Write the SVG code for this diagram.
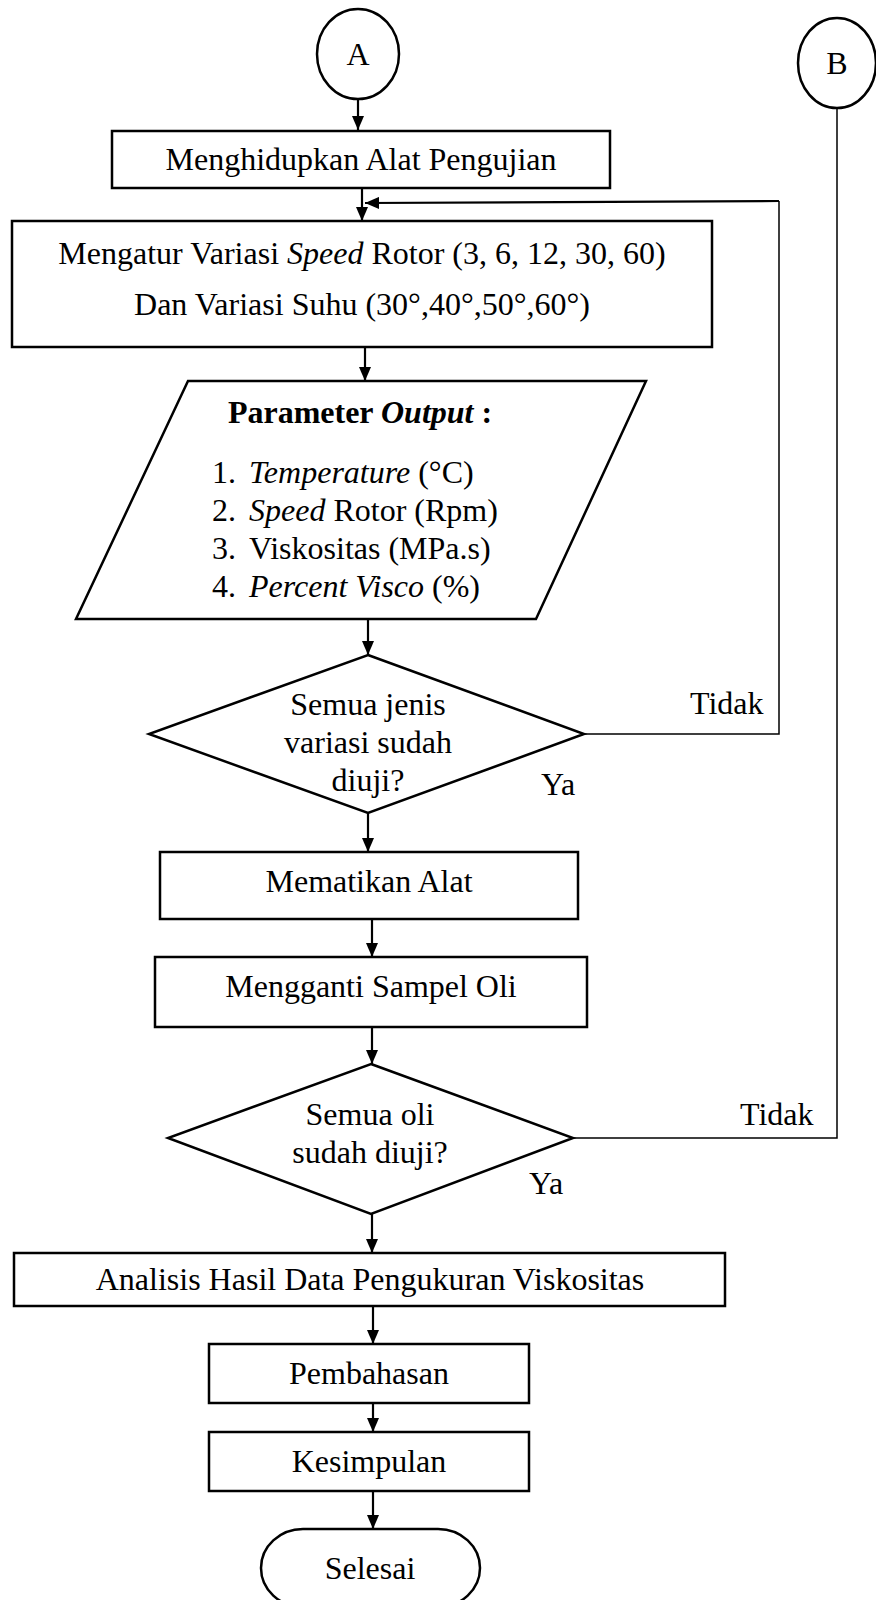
<svg xmlns="http://www.w3.org/2000/svg" width="876" height="1600" viewBox="0 0 876 1600">
<defs>
<style>
.s{fill:#fff;stroke:#000;stroke-width:2.5}
.c{fill:none;stroke:#000;stroke-width:2.2}
.f{fill:none;stroke:#000;stroke-width:1.5}
text{font-family:"Liberation Serif","Times New Roman",serif;font-size:32px;fill:#000}
.m{text-anchor:middle}
.i{font-style:italic}
.b{font-weight:bold}
</style>
<marker id="ah" viewBox="0 0 14 12" refX="14" refY="6" markerWidth="14" markerHeight="12" markerUnits="userSpaceOnUse" orient="auto">
<path d="M0,0 L14,6 L0,12 z" fill="#000"/>
</marker>
</defs>
<g id="connectors">
<line class="c" x1="358" y1="99" x2="358" y2="130" marker-end="url(#ah)"/>
<line class="c" x1="362" y1="188" x2="362" y2="221" marker-end="url(#ah)"/>
<polyline class="f" points="584,734 779,734 779,201"/>
<line class="c" x1="779" y1="201" x2="365" y2="203" marker-end="url(#ah)"/>
<line class="c" x1="365" y1="347" x2="365" y2="381" marker-end="url(#ah)"/>
<line class="c" x1="368" y1="619" x2="368" y2="655" marker-end="url(#ah)"/>
<line class="c" x1="368" y1="813" x2="368" y2="852" marker-end="url(#ah)"/>
<line class="c" x1="372" y1="919" x2="372" y2="957" marker-end="url(#ah)"/>
<line class="c" x1="372" y1="1027" x2="372" y2="1064" marker-end="url(#ah)"/>
<polyline class="f" points="837,108 837,1138 573,1138"/>
<line class="c" x1="372" y1="1214" x2="372" y2="1253" marker-end="url(#ah)"/>
<line class="c" x1="373" y1="1306" x2="373" y2="1344" marker-end="url(#ah)"/>
<line class="c" x1="373" y1="1403" x2="373" y2="1432" marker-end="url(#ah)"/>
<line class="c" x1="373" y1="1491" x2="373" y2="1529" marker-end="url(#ah)"/>
</g>
<g id="conA">
<ellipse class="s" cx="358" cy="54" rx="41" ry="45"/>
<text class="m" x="358" y="65">A</text>
</g>
<g id="conB">
<ellipse class="s" cx="837" cy="63" rx="39" ry="45"/>
<text class="m" x="837" y="74">B</text>
</g>
<g id="box1">
<rect class="s" x="112" y="131" width="498" height="57"/>
<text class="m" x="361" y="170">Menghidupkan Alat Pengujian</text>
</g>
<g id="box2">
<rect class="s" x="12" y="221" width="700" height="126"/>
<text class="m" x="362" y="264">Mengatur Variasi <tspan class="i">Speed</tspan> Rotor (3, 6, 12, 30, 60)</text>
<text class="m" x="362" y="315">Dan Variasi Suhu (30°,40°,50°,60°)</text>
</g>
<g id="output">
<polygon class="s" points="188,381 646,381 536,619 76,619"/>
<text class="m b" x="360" y="423">Parameter <tspan class="i">Output</tspan> :</text>
<text x="212" y="483">1.</text><text x="249" y="483"><tspan class="i">Temperature</tspan> (°C)</text>
<text x="212" y="521">2.</text><text x="249" y="521"><tspan class="i">Speed</tspan> Rotor (Rpm)</text>
<text x="212" y="559">3.</text><text x="249" y="559">Viskositas (MPa.s)</text>
<text x="212" y="597">4.</text><text x="249" y="597"><tspan class="i">Percent Visco</tspan> (%)</text>
</g>
<g id="dec1">
<polygon class="s" points="368,655 584,734 368,813 149,734"/>
<text class="m" x="368" y="715">Semua jenis</text>
<text class="m" x="368" y="753">variasi sudah</text>
<text class="m" x="368" y="791">diuji?</text>
<text x="690" y="714">Tidak</text>
<text x="541" y="795">Ya</text>
</g>
<g id="box3">
<rect class="s" x="160" y="852" width="418" height="67"/>
<text class="m" x="369" y="892">Mematikan Alat</text>
</g>
<g id="box4">
<rect class="s" x="155" y="957" width="432" height="70"/>
<text class="m" x="371" y="997">Mengganti Sampel Oli</text>
</g>
<g id="dec2">
<polygon class="s" points="371,1064 573,1138 371,1214 168,1138"/>
<text class="m" x="370" y="1125">Semua oli</text>
<text class="m" x="370" y="1163">sudah diuji?</text>
<text x="740" y="1125">Tidak</text>
<text x="529" y="1194">Ya</text>
</g>
<g id="box5">
<rect class="s" x="14" y="1253" width="711" height="53"/>
<text class="m" x="370" y="1290">Analisis Hasil Data Pengukuran Viskositas</text>
</g>
<g id="box6">
<rect class="s" x="209" y="1344" width="320" height="59"/>
<text class="m" x="369" y="1384">Pembahasan</text>
</g>
<g id="box7">
<rect class="s" x="209" y="1432" width="320" height="59"/>
<text class="m" x="369" y="1472">Kesimpulan</text>
</g>
<g id="end">
<rect class="s" x="261" y="1529" width="219" height="78" rx="42" ry="39"/>
<text class="m" x="370" y="1579">Selesai</text>
</g>
</svg>
